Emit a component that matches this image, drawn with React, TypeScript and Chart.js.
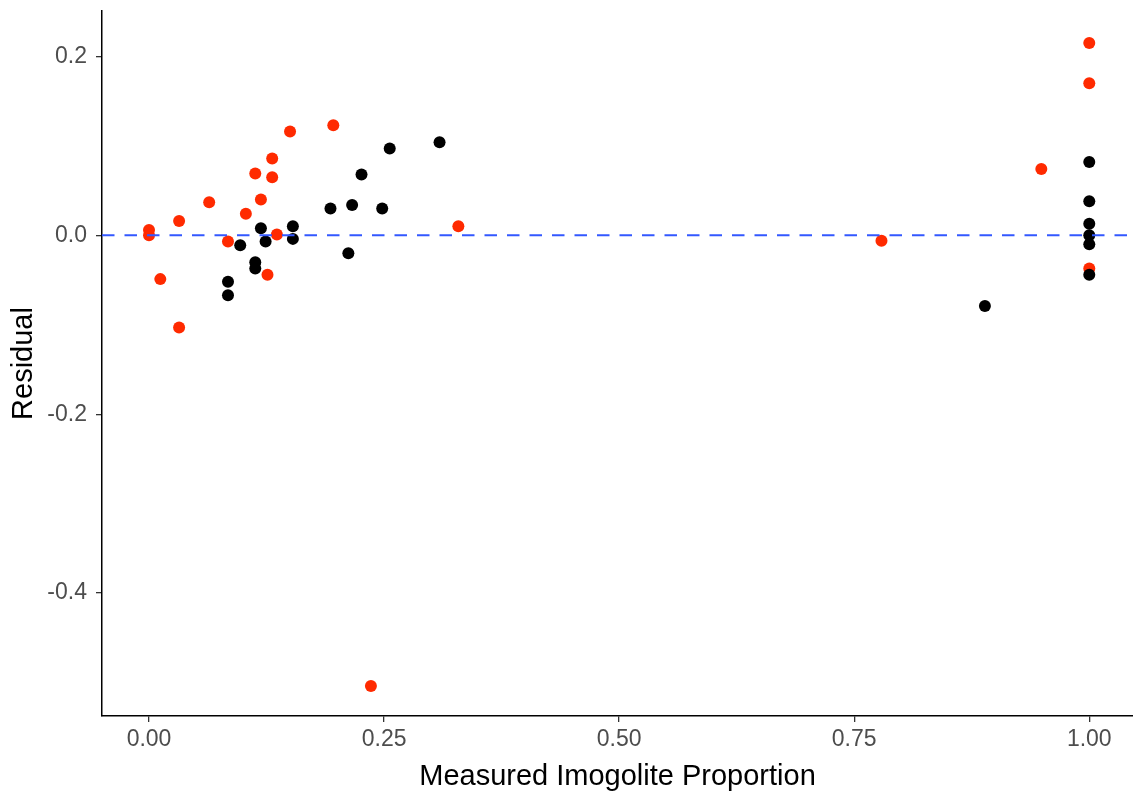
import React, { useEffect, useRef } from "react";
import { Chart, registerables } from "chart.js";

Chart.register(...registerables);

// Red series (measured proportion vs residual)
const redX = [0, 0, 0.032, 0.064, 0.012, 0.032, 0.084, 0.103, 0.119, 0.113, 0.131, 0.131, 0.150, 0.196, 0.126, 0.136, 0.329, 0.236, 1, 1, 0.949, 1, 0.779];
const redY = [0.006, 0.0, 0.016, 0.037, -0.049, -0.103, -0.007, 0.024, 0.040, 0.069, 0.086, 0.065, 0.116, 0.123, -0.044, 0.001, 0.010, -0.504, 0.215, 0.170, 0.074, -0.037, -0.006];

// Black series
const blackX = [0.119, 0.124, 0.097, 0.113, 0.113, 0.084, 0.084, 0.153, 0.153, 0.193, 0.216, 0.248, 0.212, 0.226, 0.256, 0.309, 1, 1, 1, 1, 1, 1, 0.889];
const blackY = [0.008, -0.007, -0.011, -0.030, -0.037, -0.052, -0.067, 0.010, -0.004, 0.030, 0.034, 0.030, -0.020, 0.068, 0.097, 0.104, 0.082, 0.038, 0.013, 0.000, -0.010, -0.044, -0.079];

const xTicks = [0, 0.25, 0.5, 0.75, 1.0];
const yTicks = [-0.4, -0.2, 0.0, 0.2];
const refLineY = 0;

const xTitle = "Measured Imogolite Proportion";
const yTitle = "Residual";

const FONT = "'Liberation Sans', Arial, Helvetica, sans-serif";

const refLinePlugin = {
  id: "refLine",
  afterDatasetsDraw(chart: any) {
    const { ctx, chartArea, scales } = chart;
    const y = scales.y.getPixelForValue(refLineY);
    ctx.save();
    ctx.beginPath();
    ctx.rect(chartArea.left, chartArea.top, chartArea.right - chartArea.left, chartArea.bottom - chartArea.top);
    ctx.clip();
    ctx.strokeStyle = "#3358FF";
    ctx.lineWidth = 2;
    ctx.setLineDash([12.5, 10]);
    ctx.beginPath();
    ctx.moveTo(chartArea.left, y);
    ctx.lineTo(chartArea.right, y);
    ctx.stroke();
    ctx.restore();
  },
};

export default function App() {
  const ref = useRef<HTMLCanvasElement | null>(null);

  useEffect(() => {
    document.body.style.margin = "0";
    const canvas = ref.current;
    if (!canvas) return;
    const toPts = (xs: number[], ys: number[]) => xs.map((x, i) => ({ x, y: ys[i] }));
    const chart = new Chart(canvas, {
      type: "scatter",
      data: {
        datasets: [
          {
            data: toPts(blackX, blackY),
            backgroundColor: "#000000",
            borderWidth: 0,
            pointRadius: 6,
          },
          {
            data: toPts(redX, redY),
            backgroundColor: "#FF2A00",
            borderWidth: 0,
            pointRadius: 6,
          },
        ],
      },
      options: {
        animation: false,
        responsive: false,
        maintainAspectRatio: false,
        layout: { autoPadding: false, padding: { top: 11, right: 0, left: 0, bottom: 0 } },
        plugins: {
          legend: { display: false },
          tooltip: { enabled: false },
        },
        scales: {
          x: {
            type: "linear",
            min: -0.05,
            max: 1.0465,
            afterBuildTicks: (scale: any) => {
              scale.ticks = xTicks.map((v) => ({ value: v }));
            },
            afterFit: (scale: any) => {
              scale.height = 76;
              scale.paddingLeft = 0;
              scale.paddingRight = 0;
            },
            border: { display: true, color: "#000000", width: 1.5 },
            grid: {
              display: true,
              drawOnChartArea: false,
              drawTicks: true,
              tickLength: 6,
              color: "#333333",
              lineWidth: 1.3,
            },
            ticks: {
              color: "#4D4D4D",
              font: { family: FONT, size: 23 },
              padding: 4,
              maxRotation: 0,
              autoSkip: false,
              callback: (v: any) => Number(v).toFixed(2),
            },
            title: {
              display: true,
              text: xTitle,
              color: "#000000",
              font: { family: FONT, size: 29, lineHeight: 1 },
              padding: { top: 0, bottom: 1 },
            },
          },
          y: {
            type: "linear",
            min: -0.5375,
            max: 0.2508,
            afterBuildTicks: (scale: any) => {
              scale.ticks = yTicks.map((v) => ({ value: v }));
            },
            afterFit: (scale: any) => {
              scale.width = 102;
              scale.paddingTop = 0;
              scale.paddingBottom = 0;
            },
            border: { display: true, color: "#000000", width: 1.5 },
            grid: {
              display: true,
              drawOnChartArea: false,
              drawTicks: true,
              tickLength: 6,
              color: "#333333",
              lineWidth: 1.3,
            },
            ticks: {
              color: "#4D4D4D",
              font: { family: FONT, size: 23 },
              padding: 9,
              autoSkip: false,
              callback: (v: any) => {
                const n = Number(v);
                return Math.abs(n) < 1e-9 ? "0.0" : n.toFixed(1);
              },
            },
            title: {
              display: true,
              text: yTitle,
              color: "#000000",
              font: { family: FONT, size: 29, lineHeight: 1 },
              padding: { top: 9, bottom: 0 },
            },
          },
        },
      },
      plugins: [refLinePlugin],
    });
    return () => chart.destroy();
  }, []);

  return (
    <div style={{ width: 1133, height: 792 }}>
      <canvas ref={ref} width={1133} height={792} style={{ display: "block", width: 1133, height: 792 }} />
    </div>
  );
}
